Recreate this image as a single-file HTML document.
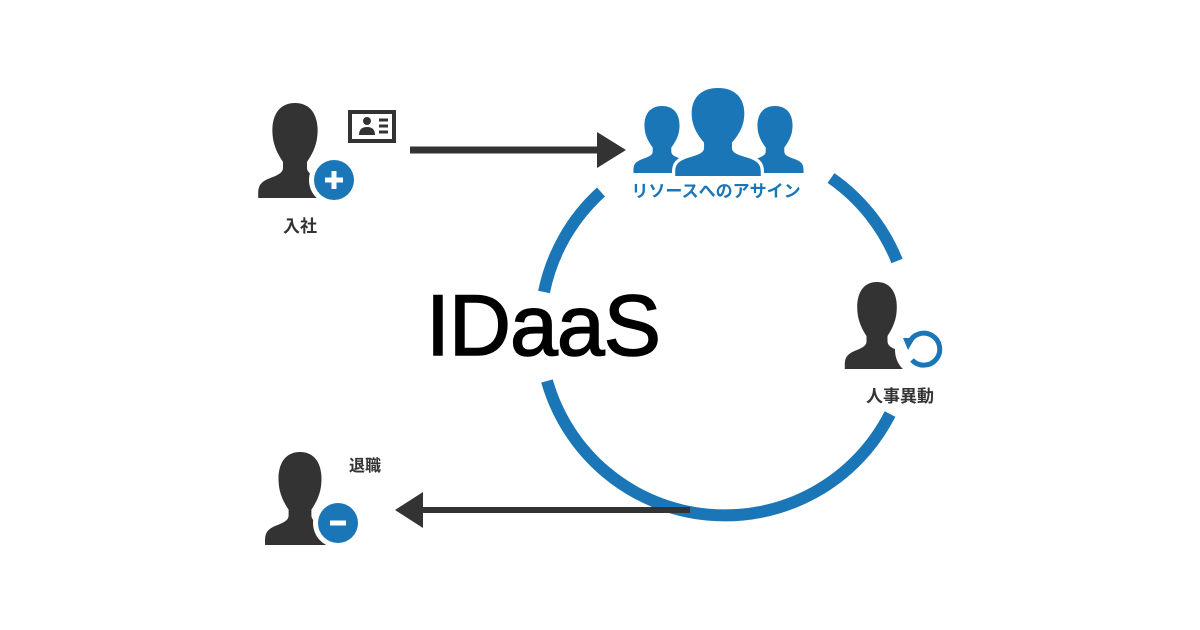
<!DOCTYPE html>
<html><head><meta charset="utf-8"><style>
body{margin:0;background:#fff;}
svg{display:block;font-family:"Liberation Sans","Noto Sans CJK JP",sans-serif;}
</style></head><body>
<svg width="1200" height="630" viewBox="0 0 1200 630">
<defs>
<path id="p" d="M0,0 C-22,0 -30,16 -28,34 C-27,46 -20,56 -15,62 L-15,68 C-15,74 -22,76 -34,80 C-44,84 -46,88 -46,96 L-46,100 L46,100 L46,96 C46,88 44,84 34,80 C22,76 15,74 15,68 L15,62 C20,56 27,46 28,34 C30,16 22,0 0,0 Z"/>
</defs>
<g fill="none" stroke="#1a76b6" stroke-width="12">
<path d="M601,192 A185,185 0 0 0 544,292"/>
<path d="M547,381 A185,185 0 0 0 890,414"/>
<path d="M831,178 A185,185 0 0 1 897,261"/>
</g>
<!-- 入社 -->
<g fill="#333"><use href="#p" transform="translate(295,103) scale(0.8,0.95)"/></g>
<circle cx="334" cy="180" r="25" fill="#fff"/><circle cx="334" cy="180" r="20" fill="#1a76b6"/>
<path d="M334,171v18M325,180h18" stroke="#fff" stroke-width="5"/>
<rect x="350" y="112" width="44" height="29" fill="none" stroke="#333" stroke-width="4"/>
<circle cx="367" cy="121" r="4" fill="#333"/><path d="M359,135 q0,-8 8,-8 q8,0 8,8z" fill="#333"/>
<path d="M379,120h9M379,126h9M379,132h9" stroke="#333" stroke-width="3"/>
<text x="300" y="232" font-size="17" font-weight="bold" fill="#333" text-anchor="middle">入社</text>
<!-- top arrow -->
<path d="M410,150H600" stroke="#333" stroke-width="7"/>
<path d="M597,132L626,150L597,168Z" fill="#333"/>
<!-- group -->
<g fill="#1a76b6">
<use href="#p" transform="translate(662,106) scale(0.62,0.67)"/>
<use href="#p" transform="translate(775,106) scale(0.62,0.67)"/>
</g>
<g fill="#fff"><use href="#p" transform="translate(718,86) scale(0.93,0.9)" stroke="#fff" stroke-width="7"/></g>
<g fill="#1a76b6"><use href="#p" transform="translate(718,88) scale(0.93,0.88)"/></g>
<text x="716" y="197" font-size="17" font-weight="bold" fill="#1a76b6" text-anchor="middle">リソースへのアサイン</text>
<!-- IDaaS -->
<text x="426" y="355" font-size="86" fill="#000" letter-spacing="-1" stroke="#000" stroke-width="1.5">IDaaS</text>
<!-- 人事異動 -->
<g fill="#333"><use href="#p" transform="translate(877,282) scale(0.7,0.87)"/></g>
<circle cx="922" cy="350" r="27" fill="#fff"/>
<path d="M909,343 A16,16 0 1 1 912,360" fill="none" stroke="#1a76b6" stroke-width="5"/>
<path d="M903,338L915,338L908,350Z" fill="#1a76b6"/>
<text x="900" y="402" font-size="17" font-weight="bold" fill="#333" text-anchor="middle">人事異動</text>
<!-- 退職 -->
<g fill="#333"><use href="#p" transform="translate(300,452) scale(0.76,0.93)"/></g>
<circle cx="338" cy="523" r="25" fill="#fff"/><circle cx="338" cy="523" r="20" fill="#1a76b6"/>
<path d="M330,523h16" stroke="#fff" stroke-width="5"/>
<text x="349" y="471" font-size="16" font-weight="bold" fill="#333">退職</text>
<!-- bottom arrow -->
<path d="M420,510H690" stroke="#333" stroke-width="6"/>
<path d="M423,492L395,510L423,528Z" fill="#333"/>
</svg>
</body></html>
